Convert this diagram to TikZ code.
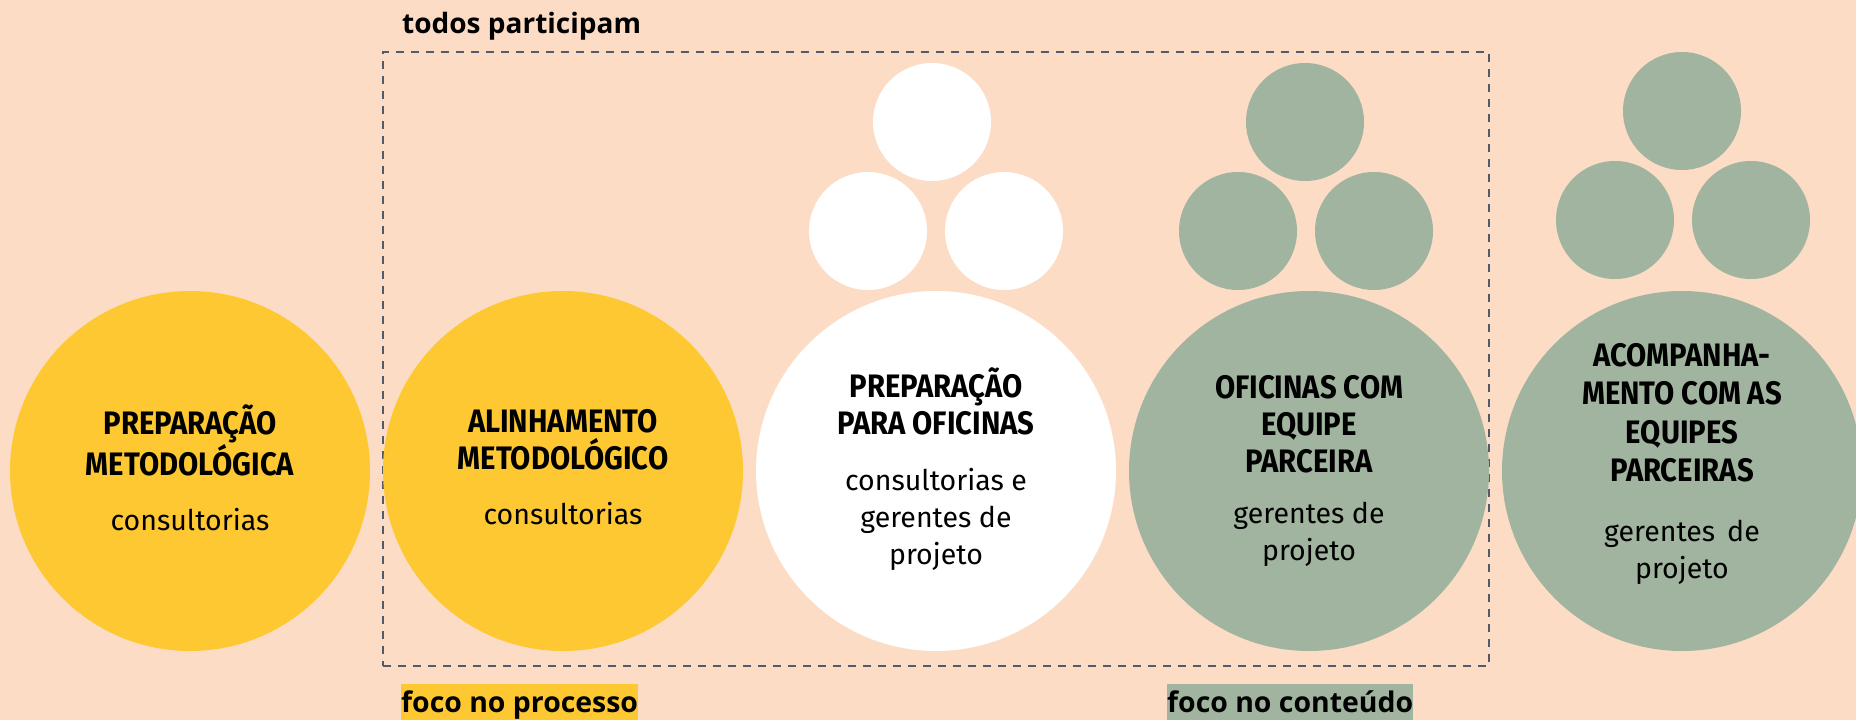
\documentclass[tikz,border=0pt]{standalone}
\usepackage{fontspec}
\setmainfont{Fira Sans}
\newfontfamily\cabeca{Fira Sans}[FakeStretch=0.9]
\newfontfamily\etiqueta{Open Sans}
\newcommand\cab[1]{{\fontsize{32.5}{37}\cabeca\bfseries #1}}
\definecolor{pessego}{HTML}{FCDCC5}
\definecolor{ouro}{HTML}{FEC832}
\definecolor{salvia}{HTML}{A0B49F}
\definecolor{ardosia}{HTML}{525B6C}
\begin{document}
\begin{tikzpicture}[x=1pt, y=-1pt,
    grande/.style={circle, inner sep=0pt, minimum size=360pt},
    bola/.style={circle, inner sep=0pt, minimum size=118pt},
    texto/.style={align=center, inner sep=0pt, font=\fontsize{28.5}{37}\selectfont},
    faixa/.style={inner sep=0pt, anchor=base west, text height=28pt, text depth=10pt,
                  font=\fontsize{28.4}{30}\selectfont\etiqueta\bfseries}]
\fill [pessego] (0,0) rectangle (1856,720);
\useasboundingbox (0,0) rectangle (1856,720);

\node[draw=ardosia, line width=2pt, dash pattern=on 8pt off 7pt,
      minimum width=1106pt, minimum height=614pt, inner sep=0pt] (grupo) at (936,359) {};
\node[anchor=base west, inner sep=0pt, font=\fontsize{28}{30}\selectfont\etiqueta\bfseries]
      (todos) at (402,33) {todos participam};

% grandes
\node[grande, fill=ouro]   (c1) at (190,471)  {};
\node[grande, fill=ouro]   (c2) at (563,471)  {};
\node[grande, fill=white]  (c3) at (936,471)  {};
\node[grande, fill=salvia] (c4) at (1309,471) {};
\node[grande, fill=salvia] (c5) at (1682,471) {};

% trios
\node[bola, fill=white]  (b3a) at (932,122)  {};
\node[bola, fill=white]  (b3b) at (868,231)  {};
\node[bola, fill=white]  (b3c) at (1004,231) {};
\node[bola, fill=salvia] (b4a) at (1305,122) {};
\node[bola, fill=salvia] (b4b) at (1238,231) {};
\node[bola, fill=salvia] (b4c) at (1374,231) {};
\node[bola, fill=salvia] (b5a) at (1682,111) {};
\node[bola, fill=salvia] (b5b) at (1615,220) {};
\node[bola, fill=salvia] (b5c) at (1751,220) {};

% textos
\node[texto] (t1) at (190,467.5)  {\cab{PREPARAÇÃO}\\\cab{METODOLÓGICA}\\[18pt]consultorias};
\node[texto] (t2) at (563,467.5)  {\cab{ALINHAMENTO}\\\cab{METODOLÓGICO}\\[18pt]consultorias};
\node[texto] (t3) at (936,469.5)  {\cab{PREPARAÇÃO}\\\cab{PARA OFICINAS}\\[19pt]consultorias e\\gerentes de\\projeto};
\node[texto] (t4) at (1309,471)   {\cab{OFICINAS COM}\\\cab{EQUIPE}\\\cab{PARCEIRA}\\[14pt]gerentes de\\projeto};
\node[texto] (t5) at (1682,464)   {\cab{ACOMPANHA-}\\[1.3pt]\cab{MENTO COM AS}\\[1.3pt]\cab{EQUIPES}\\[1.3pt]\cab{PARCEIRAS}\\[23pt]gerentes\hspace{12pt}de\\projeto};

\node[faixa, fill=ouro]   (proc) at (401,712)  {foco no processo};
\node[faixa, fill=salvia] (cont) at (1167,712) {foco no conteúdo};
\end{tikzpicture}
\end{document}
